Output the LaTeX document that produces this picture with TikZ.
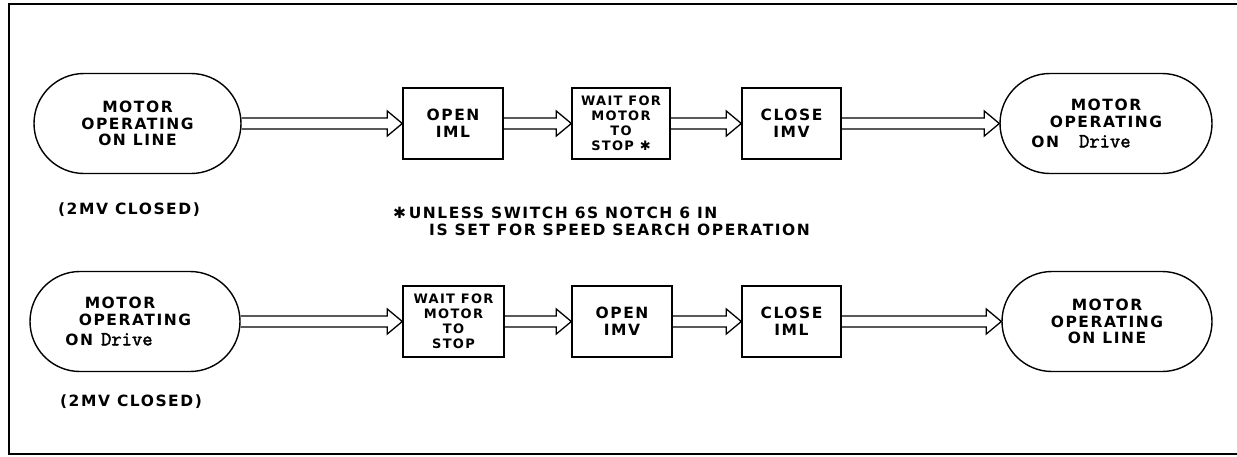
\documentclass[tikz,border=0pt]{standalone}
\usepackage{fontspec}
\usetikzlibrary{calc}
\newfontfamily\letr[LetterSpace=10]{DejaVu Sans}
\newfontfamily\symf{DejaVu Sans}
\newfontfamily\drvf[FakeBold=2]{Latin Modern Mono}
\newcommand\Drive{{\drvf\fontsize{20}{16.7}\selectfont Drive}}
\newcommand\hollowarrow[2]{%
  \draw[harr] let \p1=(#1.east), \p2=(#2.west) in
    (\x1,\y1+5.5pt) -- (\x2-15pt,\y1+5.5pt) -- (\x2-15pt,\y1+12.5pt) -- (\x2,\y1)
    -- (\x2-15pt,\y1-12.5pt) -- (\x2-15pt,\y1-5.5pt) -- (\x1,\y1-5.5pt);}
\begin{document}
\begin{tikzpicture}[x=1pt,y=-1pt,
  txt/.style={font=\letr\bfseries\fontsize{15.5}{16.7}\selectfont, align=center, inner sep=0pt},
  stadium/.style={txt, draw, line width=1.4pt, rounded corners=50pt, minimum height=100pt},
  stepbox/.style={txt, draw, line width=1.4pt, minimum height=71pt},
  waitbox/.style={stepbox, font=\letr\bfseries\fontsize{13}{15}\selectfont},
  harr/.style={line width=1.3pt, line join=miter},
  lbl/.style={txt},
  frame/.style={line width=1.6pt}]
\useasboundingbox (0,0) rectangle (1237,456);
% frame
\draw[frame] (1237,4) -- (9,4) -- (9,454) -- (1237,454);
% row 1
\node[stadium, minimum width=207pt] (s1) at (137.5,123.5) {MOTOR\\OPERATING\\ON LINE};
\node[stepbox, minimum width=100pt] (b1) at (453,123.5) {OPEN\\IML};
\node[waitbox, minimum width=98pt] (b2) at (621,123.5) {WAIT FOR\\MOTOR\\TO\\STOP {\symf ✱}};
\node[stepbox, minimum width=99pt] (b3) at (791.5,123.5) {CLOSE\\IMV};
\node[stadium, minimum width=212pt] (s2) at (1106,123.5) {MOTOR\\OPERATING\\[3pt]ON\hspace{20pt}\Drive\hspace*{50pt}};
\hollowarrow{s1}{b1}
\hollowarrow{b1}{b2}
\hollowarrow{b2}{b3}
\hollowarrow{b3}{s2}
\node[lbl] (c1) at (129,210) {(2MV CLOSED)};
\node[lbl, anchor=west, align=left, font=\letr\bfseries\fontsize{15.5}{17.5}\selectfont] (fn) at (393,221.5)
  {{\symf ✱}\,UNLESS SWITCH 6S NOTCH 6 IN\\\hspace*{36pt}IS SET FOR SPEED SEARCH OPERATION};
% row 2
\node[stadium, minimum width=210pt] (s3) at (135,321.5) {MOTOR\hspace*{30pt}\\OPERATING\\[3pt]ON\hspace{8pt}\Drive\hspace*{52pt}};
\node[waitbox, minimum width=101pt] (b4) at (453.5,321.5) {WAIT FOR\\MOTOR\\TO\\STOP};
\node[stepbox, minimum width=100pt] (b5) at (622,321.5) {OPEN\\IMV};
\node[stepbox, minimum width=99pt] (b6) at (791.5,321.5) {CLOSE\\IML};
\node[stadium, minimum width=210pt] (s4) at (1107,321.5) {MOTOR\\OPERATING\\ON LINE};
\hollowarrow{s3}{b4}
\hollowarrow{b4}{b5}
\hollowarrow{b5}{b6}
\hollowarrow{b6}{s4}
\node[lbl] (c2) at (131,402) {(2MV CLOSED)};
\end{tikzpicture}
\end{document}
